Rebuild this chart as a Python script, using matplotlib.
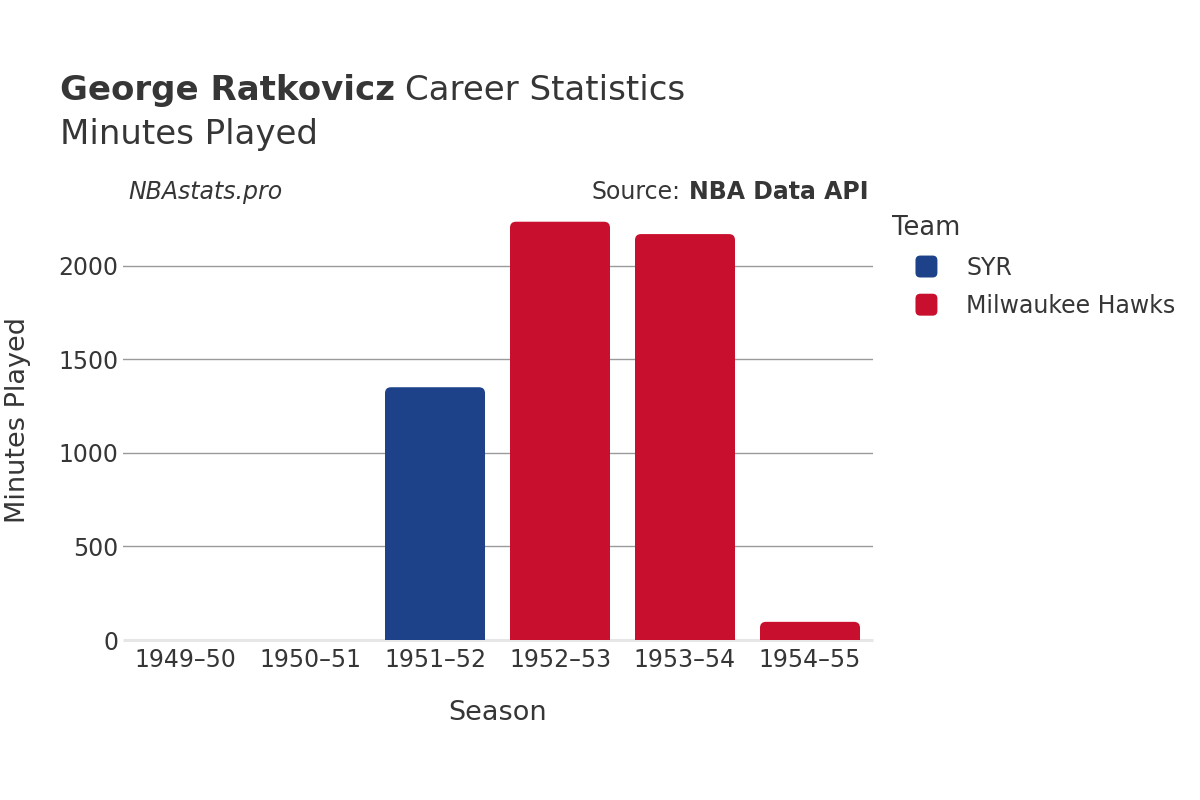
import matplotlib
matplotlib.use("Agg")
import matplotlib.pyplot as plt
from matplotlib.patches import FancyBboxPatch, Patch
from matplotlib.legend_handler import HandlerBase

seasons = ["1949\u201350", "1950\u201351", "1951\u201352", "1952\u201353", "1953\u201354", "1954\u201355"]
teams = ["SYR", "Milwaukee Hawks", "Milwaukee Hawks", "Milwaukee Hawks"]
bar_seasons = ["1951\u201352", "1952\u201353", "1953\u201354", "1954\u201355"]
minutes = [1350, 2234, 2168, 97]
team_colors = {"SYR": "#1D428A", "Milwaukee Hawks": "#C8102E"}
legend_teams = ["SYR", "Milwaukee Hawks"]
yticks = [0, 500, 1000, 1500, 2000]

TXT = "#363636"
plt.rcParams['font.family'] = ['DejaVu Sans']

fig = plt.figure(figsize=(12, 8), dpi=100)
ax = fig.add_axes([122.5 / 1200, 160 / 800, 750 / 1200, 440 / 800])

ymax = 2350
ax.set_xlim(-0.5, len(seasons) - 0.5)
ax.set_ylim(0, ymax)

xpos = [seasons.index(s) for s in bar_seasons]
bars = ax.bar(xpos, minutes, width=0.8, color=[team_colors[t] for t in teams], zorder=3)

# rounded tops
px_x = 750 / len(seasons)          # px per x unit
px_y = 440 / ymax                  # px per y unit
r_px = 6
for b in bars:
    x0, w, h = b.get_x(), b.get_width(), b.get_height()
    fc = b.get_facecolor()
    b.set_visible(False)
    ry = r_px / px_y
    patch = FancyBboxPatch((x0, -ry), w, h + ry,
                           boxstyle=f"round,pad=0,rounding_size={r_px / px_x}",
                           mutation_aspect=(1 / px_y) / (1 / px_x),
                           facecolor=fc, edgecolor="none", zorder=3)
    ax.add_patch(patch)

ax.set_yticks(yticks)
ax.set_yticklabels([str(v) for v in yticks])
ax.set_xticks(range(len(seasons)))
ax.set_xticklabels(seasons)
for v in yticks[1:]:
    ax.axhline(v, color="#9a9a9a", lw=1.0, zorder=1)
ax.axhline(0, color="#e6e6e6", lw=2.2, zorder=2, clip_on=False, solid_capstyle="butt")

for s in ax.spines.values():
    s.set_visible(False)
ax.tick_params(axis="both", length=0, labelsize=17, colors=TXT)
ax.tick_params(axis="y", pad=3)
ax.tick_params(axis="x", pad=6)

ax.set_xlabel("Season", fontsize=19.5, color=TXT, labelpad=20)
ax.set_ylabel("Minutes Played", fontsize=19.5, color=TXT)
ax.yaxis.set_label_coords((31 - 122.5) / 750, 0.5)

# titles
fig.canvas.draw()
r = fig.canvas.get_renderer()
t1 = fig.text(60 / 1200, 1 - 100 / 800, "George Ratkovicz", fontsize=24.5, fontweight="bold",
              color=TXT, va="baseline", ha="left")
bb = t1.get_window_extent(renderer=r)
fig.text(bb.x1 / 1200 + 0.0085, 1 - 100 / 800, "Career Statistics", fontsize=24.5,
         color=TXT, va="baseline", ha="left")
fig.text(60 / 1200, 1 - 144 / 800, "Minutes Played", fontsize=24.5, color=TXT,
         va="baseline", ha="left")

fig.text(128 / 1200, 1 - 199 / 800, "NBAstats.pro", fontsize=17, style="italic",
         color=TXT, va="baseline", ha="left")
t2 = fig.text(868 / 1200, 1 - 199 / 800, "NBA Data API", fontsize=17, fontweight="bold",
              color=TXT, va="baseline", ha="right")
bb2 = t2.get_window_extent(renderer=r)
fig.text(bb2.x0 / 1200 - 0.0065, 1 - 199 / 800, "Source:", fontsize=17,
         color=TXT, va="baseline", ha="right")


class RoundSquareHandler(HandlerBase):
    def create_artists(self, legend, orig_handle, xdescent, ydescent, width, height,
                       fontsize, trans):
        s = 15.8
        cx = width / 2 - xdescent
        cy = height / 2 - ydescent
        p = FancyBboxPatch((cx - s / 2, cy - s / 2), s, s,
                           boxstyle="round,pad=0,rounding_size=3.5",
                           facecolor=orig_handle.get_facecolor(), edgecolor="none",
                           transform=trans)
        return [p]


handles = [Patch(facecolor=team_colors[t]) for t in legend_teams]
leg = fig.legend(handles, legend_teams, title="Team",
                 loc="upper left", bbox_to_anchor=(883 / 1200, 1 - 206 / 800),
                 frameon=False, fontsize=17, title_fontsize=18.5,
                 labelspacing=0.6, handletextpad=0.25, borderaxespad=0,
                 alignment="left", handlelength=2.88, handleheight=1.0,
                 handler_map={Patch: RoundSquareHandler()})
for t in leg.get_texts():
    t.set_color(TXT)
leg.get_title().set_color(TXT)

fig.savefig("out.png", dpi=100)
